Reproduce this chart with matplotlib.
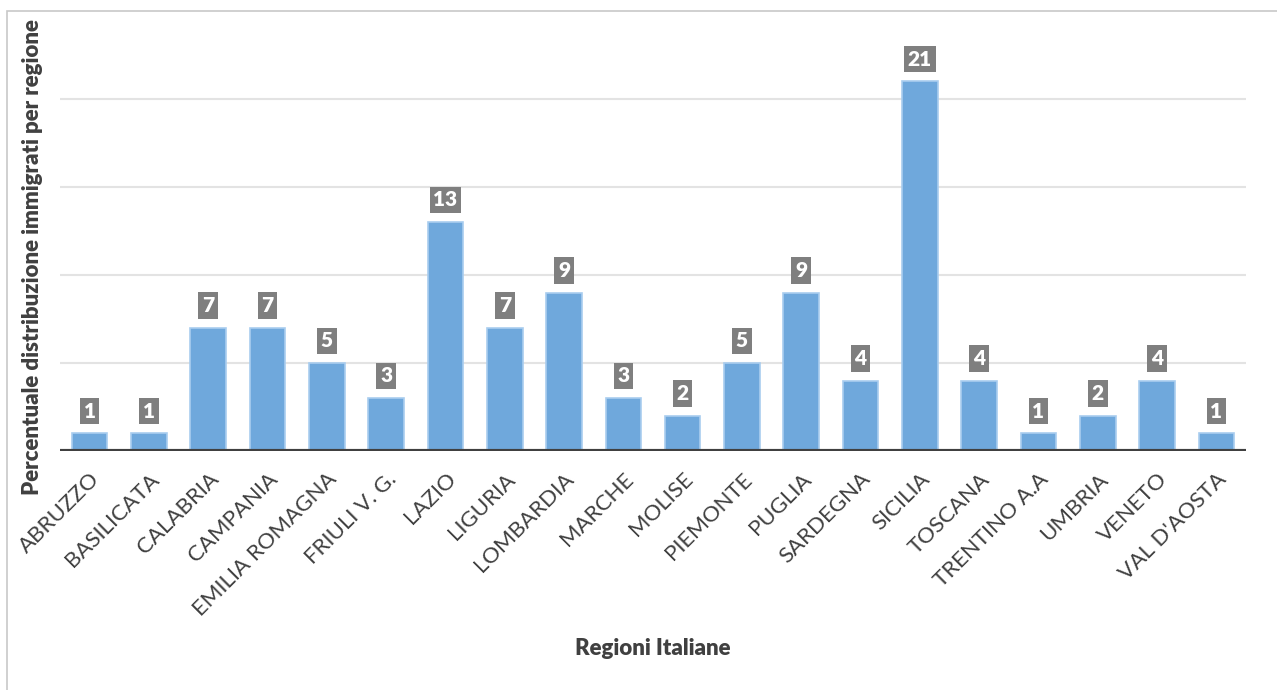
import numpy as np
import matplotlib.pyplot as plt
from matplotlib.patches import Rectangle

# distribuzione percentuale degli immigrati per regione
regioni = ["ABRUZZO", "BASILICATA", "CALABRIA", "CAMPANIA", "EMILIA ROMAGNA",
           "FRIULI V. G.", "LAZIO", "LIGURIA", "LOMBARDIA", "MARCHE", "MOLISE",
           "PIEMONTE", "PUGLIA", "SARDEGNA", "SICILIA", "TOSCANA",
           "TRENTINO A.A", "UMBRIA", "VENETO", "VAL D'AOSTA"]
percentuali = [1, 1, 7, 7, 5, 3, 13, 7, 9, 3, 2, 5, 9, 4, 21, 4, 1, 2, 4, 1]

plt.rcParams["font.family"] = ["Lato", "DejaVu Sans"]

fig = plt.figure(figsize=(12.77, 6.9), dpi=100)
ax = fig.add_axes([0.047, 0.3464, 0.9287, 0.6376])

# cornice del grafico
fig.patches.append(Rectangle((7 / 1277, -0.1), 1.2, 1.1 - 11 / 690,
                             transform=fig.transFigure, fill=False,
                             edgecolor="#c8c8c8", linewidth=1.2))

x = np.arange(len(regioni))
ax.bar(x, percentuali, width=0.6, color="#6fa8dc", edgecolor="#a9cdef",
       linewidth=1.2, zorder=3)

for xi, v in zip(x, percentuali):
    ax.annotate(str(v), (xi, v), xytext=(0, 16), textcoords="offset points",
                ha="center", va="center", fontsize=15, fontweight="heavy",
                color="white", zorder=4,
                bbox=dict(boxstyle="square,pad=0.18", fc="#7f7f7f", ec="none"))

ax.set_xlim(-0.5, len(regioni) - 0.5)
ax.set_ylim(0, 25)
for g in [5, 10, 15, 20]:
    ax.axhline(g, color="#e3e3e3", linewidth=1.5, zorder=1)
ax.axhline(0, color="#404040", linewidth=3, zorder=5)

ax.set_yticks([])
ax.set_xticks(x)
ax.set_xticklabels(regioni, rotation=45, ha="right", rotation_mode="anchor",
                   fontsize=16, color="#404040")
ax.tick_params(axis="x", length=0, pad=13)
for s in ax.spines.values():
    s.set_visible(False)

ax.set_xlabel("Regioni Italiane", fontsize=16, fontweight="heavy",
              color="#404040", labelpad=0)
ax.xaxis.set_label_coords(0.5, -0.425)
ax.set_ylabel("Percentuale distribuzione immigrati per regione", fontsize=16,
              fontweight="heavy", color="#404040")
ax.yaxis.set_label_coords(-0.014, 0.44)

fig.savefig("out.png", dpi=100)
